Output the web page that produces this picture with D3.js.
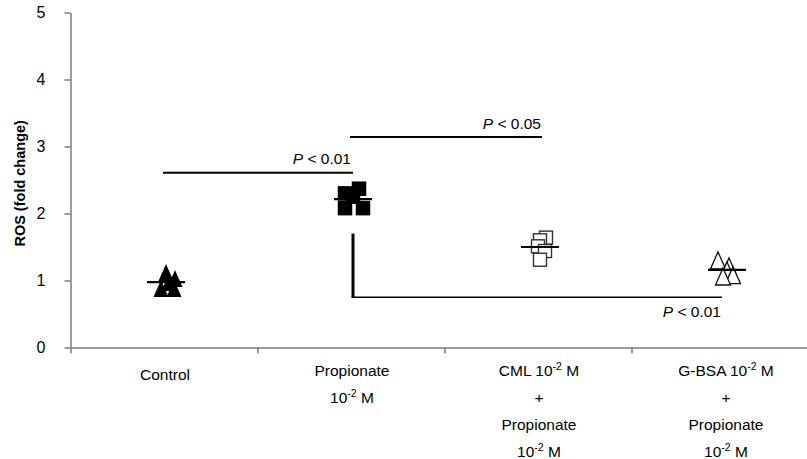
<!DOCTYPE html>
<html>
<head>
<meta charset="utf-8">
<script src="https://cdn.jsdelivr.net/npm/d3@7/dist/d3.min.js"></script>
<style>
  html, body { margin: 0; padding: 0; background: #fff; overflow: hidden; }
  svg { display: block; font-family: "Liberation Sans", Arial, sans-serif; }
</style>
</head>
<body>
<svg id="chart" width="807" height="459"></svg>
<script>
// Groups along the x axis; label lines use {..} for superscript runs
const categories = ["Control", "Propionate", "CML", "G-BSA"];
const categoryLabels = [
  ["Control"],
  ["Propionate", "10{-2}\u00a0M"],
  ["CML 10{-2}\u00a0M", "+", "Propionate", "10{-2}\u00a0M"],
  ["G-BSA 10{-2}\u00a0M", "+", "Propionate", "10{-2}\u00a0M"]
];

// ROS fold change per replicate
const controlValues    = [1.12, 1.03, 0.97, 0.88, 0.88];
const propionateValues = [2.37, 2.30, 2.25, 2.08, 2.08];
const cmlValues        = [1.64, 1.60, 1.51, 1.44, 1.31];
const gbsaValues       = [1.30, 1.21, 1.15, 1.08, 1.06];

const yTicks = [0, 1, 2, 3, 4, 5];

// Significance annotations: from group, to group, bar level, label
const sigFrom   = [0, 1, 1];
const sigTo     = [1, 2, 3];
const sigLevel  = [2.61, 3.14, 0.75];
const sigText   = ["0.01", "0.05", "0.01"];

const groups = [controlValues, propionateValues, cmlValues, gbsaValues];

const svg = d3.select("#chart");

const x = d3.scaleLinear().domain([0, 4]).range([70.5, 818.5]);
const y = d3.scaleLinear().domain([0, 5]).range([347.5, 12.5]);
const cx = i => x(i + 0.5);

// horizontal scatter spread for each replicate (px)
const spread = [
  [2, 11, 5, -3, 10],
  [8, -6, 2, -6, 12],
  [8, 2, 0, 7, 2],
  [-7, 4, 2, 8, -2]
];

// Axes
const axisColor = "#7a7a7a";
const yAxis = svg.append("g")
  .attr("transform", `translate(${x(0)},0)`)
  .call(d3.axisLeft(y).tickValues(yTicks).tickSize(6).tickSizeOuter(0).tickPadding(19).tickFormat(d3.format("d")));
const xAxis = svg.append("g")
  .attr("transform", `translate(0,${y(0)})`)
  .call(d3.axisBottom(x).tickValues([0, 1, 2, 3, 4]).tickSize(6).tickSizeOuter(0).tickFormat(""));
[yAxis, xAxis].forEach(g => {
  g.select(".domain").attr("stroke", axisColor).attr("stroke-width", 1.5);
  g.selectAll(".tick line").attr("stroke", axisColor).attr("stroke-width", 1.5);
  g.selectAll(".tick text").attr("fill", "#000").attr("font-size", 16)
    .attr("font-family", "'Liberation Sans', Arial, sans-serif");
});

// Y axis title
svg.append("text")
  .attr("transform", `translate(25,${y(2.45)}) rotate(-90)`)
  .attr("text-anchor", "middle")
  .attr("font-size", 14.5)
  .attr("font-weight", "bold")
  .text("ROS (fold change)");

// Category labels, with superscript exponents
function writeLine(textSel, str) {
  const parts = str.split(/(\{[^}]*\})/).filter(s => s.length);
  let raised = false;
  parts.forEach(p => {
    if (p.startsWith("{")) {
      textSel.append("tspan").attr("font-size", 10.5).attr("dy", -6).text(p.slice(1, -1));
      raised = true;
    } else {
      const t = textSel.append("tspan").text(p);
      if (raised) { t.attr("dy", 6); raised = false; }
    }
  });
}
categoryLabels.forEach((lines, i) => {
  const top = lines.length === 1 ? 380 : 376;
  lines.forEach((line, j) => {
    const t = svg.append("text")
      .attr("x", cx(i) + 1)
      .attr("y", top + j * 27)
      .attr("text-anchor", "middle")
      .attr("font-size", 15.5);
    writeLine(t, line);
  });
});

// Marker shapes
const triW = 15, triH = 17, sqS = 14.5, sqO = 13;
function triPath(px, py) {
  return `M${px},${py - triH / 2}L${px + triW / 2},${py + triH / 2}L${px - triW / 2},${py + triH / 2}Z`;
}

groups.forEach((vals, i) => {
  const g = svg.append("g");
  vals.forEach((v, k) => {
    const px = cx(i) + spread[i][k];
    const py = y(v);
    if (i === 0) {
      g.append("path").attr("d", triPath(px, py)).attr("fill", "#000");
    } else if (i === 1) {
      g.append("rect").attr("x", px - sqS / 2).attr("y", py - sqS / 2)
        .attr("width", sqS).attr("height", sqS).attr("fill", "#000");
    } else if (i === 2) {
      g.append("rect").attr("x", px - sqO / 2).attr("y", py - sqO / 2)
        .attr("width", sqO).attr("height", sqO)
        .attr("fill", "#fff").attr("stroke", "#333").attr("stroke-width", 1.4);
    } else {
      g.append("path").attr("d", triPath(px, py))
        .attr("fill", "#fff").attr("stroke", "#111").attr("stroke-width", 1.3);
    }
  });
  // group mean
  const m = d3.mean(vals);
  g.append("line")
    .attr("x1", cx(i) + 2 - 19).attr("x2", cx(i) + 2 + 19)
    .attr("y1", y(m)).attr("y2", y(m))
    .attr("stroke", "#000").attr("stroke-width", 2.2);
});

// Significance bars
function pLabel(px, py, level) {
  const t = svg.append("text").attr("x", px).attr("y", py)
    .attr("text-anchor", "end").attr("font-size", 15.5);
  t.append("tspan").attr("font-style", "italic").text("P");
  t.append("tspan").text(" < " + level);
  return t;
}
// Control vs Propionate
svg.append("line").attr("x1", cx(sigFrom[0]) - 1).attr("x2", cx(sigTo[0]) + 2)
  .attr("y1", y(sigLevel[0])).attr("y2", y(sigLevel[0]))
  .attr("stroke", "#000").attr("stroke-width", 2);
pLabel(cx(sigTo[0]), y(sigLevel[0]) - 9, sigText[0]);

// Propionate vs CML
svg.append("line").attr("x1", cx(sigFrom[1]) - 1).attr("x2", cx(sigTo[1]) + 4)
  .attr("y1", y(sigLevel[1])).attr("y2", y(sigLevel[1]))
  .attr("stroke", "#000").attr("stroke-width", 2);
pLabel(cx(sigTo[1]) + 3, y(sigLevel[1]) - 8, sigText[1]);

// Propionate vs G-BSA (elbow bracket)
svg.append("line").attr("x1", cx(sigFrom[2]) + 2).attr("x2", cx(sigFrom[2]) + 2)
  .attr("y1", y(1.7)).attr("y2", y(sigLevel[2]))
  .attr("stroke", "#000").attr("stroke-width", 3);
svg.append("line").attr("x1", cx(sigFrom[2]) + 0.5).attr("x2", cx(sigTo[2]) - 3)
  .attr("y1", y(sigLevel[2])).attr("y2", y(sigLevel[2]))
  .attr("stroke", "#000").attr("stroke-width", 1.5);
pLabel(cx(sigTo[2]) - 4, y(sigLevel[2]) + 20, sigText[2]);
</script>
</body>
</html>
